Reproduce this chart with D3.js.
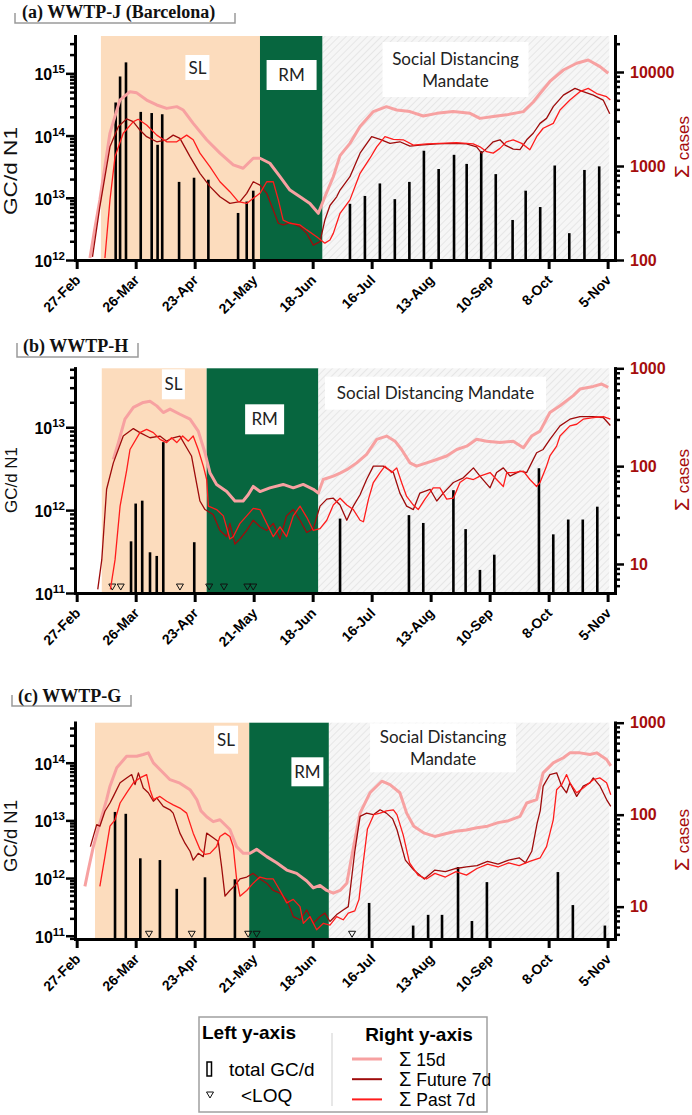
<!DOCTYPE html>
<html>
<head>
<meta charset="utf-8">
<script src="https://cdn.jsdelivr.net/npm/d3@7"></script>
<style>
  body { margin: 0; background: #fff; }
  svg { display: block; }
</style>
</head>
<body>
<svg id="chart" width="692" height="1115"></svg>
<script>
// ---- data (days counted from 27-Feb-2020) ----
const tickDays = [0, 28, 56, 84, 112, 140, 168, 196, 224, 252];
const tickLabels = ["27-Feb", "26-Mar", "23-Apr", "21-May", "18-Jun", "16-Jul", "13-Aug", "10-Sep", "8-Oct", "5-Nov"];

// period limits: SL start, RM start, mandate start, end
const aPeriods = [11.5, 87, 116.7, 252.8];
const bPeriods = [11.9, 61.7, 114.7, 252.8];
const cPeriods = [8.7, 81.9, 119.7, 252.8];

// (a) WWTP-J
const aBars = [[18.5,3.4e14],[20.6,8.9e14],[23.4,1.5e15],[30.4,2.4e14],[35.6,2.3e14],[38.4,7.1e13],[40.6,2.2e14],[48.6,1.8e13],[55.7,2.1e13],[62.5,1.95e13],[76.6,5.7e12],[80.7,8.7e12],[83.8,1.3e13],[129.7,8e12],[136.8,1.07e13],[143.9,1.7e13],[151,9.5e12],[157.9,1.8e13],[164.8,5.7e13],[171.8,2.9e13],[179.1,4.9e13],[185.1,3.5e13],[192,5.6e13],[198.9,2.4e13],[206.9,4.4e12],[213.1,1.3e13],[220,7.1e12],[226.9,3.3e13],[233.8,2.7e12],[241,2.8e13],[248,3.2e13]];
const aLoq = [];
const aSum15 = [[6.3,105],[8.5,210],[11,436],[15.8,2240],[20.5,5030],[25.3,6170],[28.5,6000],[33.2,5030],[38,4460],[42.7,4100],[47.5,4280],[50.6,3940],[55.3,2840],[61.7,1900],[68,1370],[74.3,1030],[79,946],[83.8,1210],[87,1210],[91.7,1070],[96.5,769],[101.2,555],[106,470],[110.7,400],[114.7,314],[117.8,470],[121.8,769],[125,1290],[129.7,1740],[134.5,2630],[140.8,3790],[147,4280],[151.9,3940],[158.2,3790],[164.5,3400],[170.9,3630],[178.7,3790],[186.7,3630],[191.4,3210],[197.7,3360],[204,3500],[212,3790],[216.7,4800],[219.9,5900],[224.6,7930],[231,10500],[237.3,12400],[242.8,13400],[248.4,11400],[252.3,9690]];
const aFuture7 = [[7.5,108],[11,369],[15.8,1600],[19.8,2630],[23.7,3170],[26.8,2960],[30,2410],[33.2,2050],[38,1810],[42.7,1900],[45.8,2130],[49,1970],[53.8,1260],[58.5,836],[63.3,603],[68,470],[72.7,400],[77.5,417],[80.7,512],[83.8,680],[87,627],[90.2,512],[93.3,340],[95.7,246],[98,236],[101.2,250],[106,226],[109.2,192],[112.3,144],[115.5,157],[117.8,266],[120.2,380],[123.4,470],[125,555],[129.7,769],[134.5,1370],[140,2050],[144,1920],[148.7,1740],[153.4,1810],[158.2,1630],[162.9,1670],[170.9,1720],[178.7,1740],[185,1720],[189.8,1600],[192.2,1370],[194.6,1540],[197.7,1810],[200.9,1900],[203.3,1670],[207.2,1510],[210.4,1490],[213.6,1900],[216.7,2230],[219.9,2840],[223,3210],[226.2,4280],[231,5680],[236.5,6700],[240.4,6170],[245.2,5680],[249.9,5030],[253,3600]];
const aPast7 = [[13.4,105],[15.8,436],[18.2,1260],[22.1,2230],[26.9,2960],[29.2,3140],[33.2,2730],[38,2130],[42.7,1810],[47.5,1810],[52.2,2130],[55.3,1900],[58.5,1370],[63.3,980],[68,680],[72.7,533],[76.7,417],[80.7,400],[83.8,453],[87,512],[90.2,680],[93.3,680],[95.7,436],[98,266],[101.2,246],[106,236],[109.2,209],[113.9,177],[117.8,151],[120.2,163],[121.8,192],[125,314],[129.7,436],[134.5,836],[139.2,1210],[142.4,1600],[146.3,2050],[150.3,1920],[155,1900],[159.8,1670],[166.1,1720],[172.4,1740],[180.3,1770],[188.2,1720],[191.4,1600],[194.6,1420],[197.7,1370],[200.9,1540],[204,1810],[207.2,1900],[211.2,1740],[215.1,1490],[218.3,2050],[221.4,2520],[226.2,2840],[229.4,3940],[234.1,5030],[238.8,6170],[242.8,6700],[246.8,5900],[251.5,5460],[253.3,5030]];

// (b) WWTP-H
const bBars = [[25.8,4.2e11],[28,1.2e12],[31.1,1.3e12],[34.8,3.1e11],[38,2.8e11],[41.1,6.6e12],[55.8,4.1e11],[125,7.9e11],[157.7,8.7e11],[164.5,7e11],[178.8,1.74e12],[184.6,5.9e11],[191.4,1.9e11],[198.2,2.9e11],[219.4,3.2e12],[226.2,5.1e11],[233.3,7.7e11],[240.2,7.7e11],[247.1,1.1e12]];
const bLoq = [16.9, 20.9, 49, 62.9, 69.9, 81, 83.8];
const bSum15 = [[17.4,117],[19.8,174],[22.9,302],[26.9,398],[31.6,448],[34.8,460],[38,413],[41.1,353],[44.3,383],[49,339],[53.8,302],[57.7,228],[60.9,137],[63.3,85],[66.4,65],[71.2,55],[75.1,44],[79,44],[81.4,51],[83.8,62],[87,55],[91.7,60],[98,65],[102.8,60],[107.5,65],[112.3,58],[114.7,53],[117,73],[121.8,79],[125,85],[128.2,92],[132.9,108],[137.6,132],[142.4,188],[147.1,203],[151.1,180],[154.2,148],[158.2,108],[161.3,100],[166.1,108],[170.9,117],[175.6,127],[180.4,148],[185.1,160],[189.8,188],[194.6,180],[200.9,174],[207.2,180],[212,154],[215.9,203],[219.9,228],[224.6,354],[229.4,414],[235.7,525],[238.9,613],[245.2,653],[249.2,690],[252.3,638]];
const bFuture7 = [[10,5.5],[11.9,11],[14.2,58],[17.4,108],[22.1,203],[26.9,242],[30,220],[34.8,195],[39.5,203],[42.7,180],[45.8,195],[49,203],[52.2,154],[54.5,127],[56.9,67],[58.5,44],[60.9,36],[64.8,32],[68,22],[71.2,19],[72.7,26],[75.1,16],[77.5,18],[80.7,22],[83.8,28],[87,24],[90.2,22],[93.3,26],[96.5,18],[99.6,31],[102.8,36],[106,28],[109.2,21],[112.3,23],[115.5,39],[118.7,46],[121.8,47],[125,40],[128.2,28],[131.3,39],[134.5,51],[137.6,73],[140.8,100],[145.5,100],[150.3,86],[153.4,53],[156.6,39],[159.8,36],[162.9,53],[167.7,58],[170.9,44],[174,53],[178.8,68],[183.5,76],[188.3,96],[191.4,79],[196.2,60],[199.3,86],[202.5,96],[205.7,79],[210.4,89],[213.6,86],[215.9,108],[218.3,137],[221.4,148],[224.6,188],[229.4,258],[234.1,302],[238.9,320],[245.2,320],[249.9,314],[253.3,260]];
const bPast7 = [[16,5.5],[18.2,11],[20.6,39],[23.7,90],[25.3,148],[30,220],[33.2,238],[36.4,220],[39.5,188],[42.7,174],[45,195],[47.5,174],[50.3,203],[53,180],[55.3,203],[57.7,148],[60.1,100],[61.7,73],[62.5,39],[66.4,36],[69.6,31],[72.7,18],[74.3,19],[77.5,26],[80.7,31],[83.8,37],[87,36],[90.2,26],[93.3,19],[96.5,24],[99.6,19],[102.8,31],[106,39],[109.2,30],[112.3,22],[115.5,23],[118.7,28],[121.8,40],[125,47],[128.2,40],[131.3,36],[134.5,28],[136.1,27],[138.5,46],[140.8,68],[144,86],[146.3,100],[149.5,86],[151.9,96],[154.2,68],[156.6,49],[159.8,40],[162.1,36],[165.3,46],[169.2,60],[172.4,60],[175.6,46],[178.8,47],[181.9,68],[185.1,76],[188.3,73],[191.4,79],[196.2,86],[199.3,73],[202.5,62],[204.1,86],[207.2,86],[212,89],[215.1,73],[218.3,62],[219.9,68],[223,100],[224.6,127],[227.8,160],[229.4,203],[234.1,258],[237.3,268],[240.4,302],[245.2,314],[250,320],[253.3,302]];

// (c) WWTP-G
const cBars = [[18.2,1.4e13],[23.3,1.3e13],[30.2,2.2e12],[39.5,2.05e12],[47.5,6.5e11],[60.9,1.03e12],[75.1,9.5e11],[138.8,3.7e11],[159.7,1.5e11],[166.8,2.3e11],[173.4,2.3e11],[181,1.55e12],[187.6,1.8e11],[194.7,8.5e11],[228.4,1.27e12],[235.5,3.4e11],[250.7,1.5e11]];
const cLoq = [34.3, 54.6, 81.4, 85.4, 130.7];
const cSum15 = [[3.9,16.6],[5.5,25],[7.9,45],[11,81],[14.2,146],[15.8,204],[19,323],[23.7,432],[28.5,432],[31.6,451],[34,470],[36.4,366],[39.5,310],[44.3,240],[49,220],[53.8,187],[57,146],[59,110],[61.7,95],[64.8,84],[68,88],[72.7,69],[75.9,45],[79.1,38],[82.3,38],[85.4,42],[90.2,35],[94.9,30],[99.7,25],[104.4,23],[109.2,19],[112.3,16],[115.5,17],[118.7,15],[121.8,14],[125,15],[128.2,18],[131,40],[134.5,104],[139.2,173],[144.8,231],[148.7,212],[153.4,173],[156.6,104],[160,75],[165,63],[170,58],[175,62],[180,66],[185,68],[190,72],[195,75],[200,82],[205,86],[210.4,96],[213.6,134],[218.3,146],[221.4,285],[226.2,366],[231,416],[234.1,470],[238.9,470],[243.6,451],[246.8,470],[251.5,398],[253.5,340]];
const cFuture7 = [[6.5,45],[9.5,78],[11,75],[13.4,109],[15.8,134],[17.4,158],[20.6,222],[23.7,251],[26.1,273],[27.7,212],[29.3,285],[31.6,195],[34,173],[36.4,140],[38,152],[41.1,123],[44.3,113],[45.8,104],[49,63],[51.4,49],[53.8,40],[55.3,32],[57.7,38],[60.1,35],[61.7,63],[64.8,56],[67.2,51],[68.8,27],[70.4,13],[72.7,15],[75.1,17],[77.5,20],[80.7,21],[83.8,23],[87,20],[90.2,18],[93.3,15],[96.5,14],[99.7,12],[102.8,7.8],[106,7.2],[109.2,9.2],[112.3,6.6],[115.5,7.8],[117.8,8.5],[120.2,6.9],[123.4,8.2],[126.5,9.2],[128.9,10],[132,40],[134.5,96],[137.6,104],[140.8,100],[144,113],[147,104],[150,90],[152,69],[156,32],[160,25],[165,20],[170,25],[175,24],[180,26],[185,27],[190,28],[195,31],[200,29],[205,32],[210,34],[213,30],[216,40],[218.5,80],[220,110],[221.4,204],[224.6,273],[227.8,285],[230.2,204],[232.5,173],[234.1,222],[237.3,158],[240.4,204],[243.6,222],[245.2,251],[248.4,204],[251.5,146],[253.5,123]];
const cPast7 = [[11,16.6],[13.4,35],[15.8,75],[18.2,88],[20.6,134],[23.7,173],[26.9,222],[30,251],[33.2,273],[34.8,187],[36.4,146],[39.5,158],[42.7,140],[45.8,128],[49,118],[52.2,104],[55.3,63],[58.5,42],[60.9,37],[63.3,38],[66.4,45],[68,58],[70.4,63],[72.7,58],[74.3,45],[75.9,20],[77.5,13],[80.7,15],[83.8,18],[87,21],[90.2,20],[93.3,20],[96.5,15],[99.7,11],[102.8,12],[106,10],[107.6,6.6],[110.7,7.8],[113.9,5.6],[117.1,6.6],[120.2,6.3],[123.4,7.8],[126.5,7.2],[128.9,8.5],[132,9],[134,12],[136,30],[138,70],[141,100],[144,104],[147,110],[150.3,113],[152,100],[155,60],[158,30],[162,22],[166,20],[170,23],[175,21],[180,24],[185,22],[190,26],[195,29],[200,27],[205,30],[210,28],[215,31],[220,34],[223,45],[226.2,88],[227.8,187],[230.2,212],[232.5,273],[234.1,222],[237.3,173],[240.4,195],[245.2,240],[248.4,251],[251.5,222],[253.5,165]];

const panelTitles = ["(a) WWTP-J (Barcelona)", "(b) WWTP-H", "(c) WWTP-G"];
const leftDomains = [[1e12, 3.98e15], [1e11, 5.14e13], [8.77e10, 4.94e14]];
const rightDomains = [[100, 24150], [5.05, 1000], [4.45, 1000]];
const rightTicks = [[100, 1000, 10000], [10, 100, 1000], [10, 100, 1000]];
const loqLevels = [null, 1.18e11, 1.06e11];

const seriesNames = ["15d", "Future 7d", "Past 7d"];
const seriesColors = ["#f7a1a1", "#9e0b0b", "#ff1c1c"];
const seriesWidths = [3, 1.3, 1.3];

const panels = [
  {title: panelTitles[0], periods: aPeriods, bars: aBars, loq: aLoq, series: [aSum15, aFuture7, aPast7]},
  {title: panelTitles[1], periods: bPeriods, bars: bBars, loq: bLoq, series: [bSum15, bFuture7, bPast7]},
  {title: panelTitles[2], periods: cPeriods, bars: cBars, loq: cLoq, series: [cSum15, cFuture7, cPast7]}
];

// ---- layout ----
const layout = [
  {top: 36, bottom: 260, titleX: 22, titleY: 18, bracket: [15, 235, 13, 23], labY: 171, labLen: 88, labSize: 19, casesY: 147,
   boxes: [{day: 57.3, dy: 19, w: 24, h: 25, lines: ["SL"]}, {day: 102, dy: 24, w: 50, h: 30, lines: ["RM"]}, {day: 179.8, dy: 6, w: 146, h: 55, lines: ["Social Distancing", "Mandate"]}]},
  {top: 368.3, bottom: 593, titleX: 23, titleY: 352, bracket: [17, 138, 343, 357], labY: 480, labLen: 66, labSize: 17, casesY: 480,
   boxes: [{day: 45.9, dy: 1, w: 23, h: 30, lines: ["SL"]}, {day: 89.2, dy: 36, w: 39, h: 30, lines: ["RM"]}, {day: 170.3, dy: 8.4, w: 221, h: 33, lines: ["Social Distancing Mandate"]}]},
  {top: 722.7, bottom: 939, titleX: 18, titleY: 702, bracket: [12, 131, 695, 706], labY: 836, labLen: 72, labSize: 18, casesY: 840,
   boxes: [{day: 70.9, dy: 3, w: 24, h: 28, lines: ["SL"]}, {day: 109.5, dy: 34.6, w: 32, h: 29, lines: ["RM"]}, {day: 173.9, dy: 0.6, w: 146, h: 49, lines: ["Social Distancing", "Mandate"]}]}
];

const sans = "'Liberation Sans', Arial, sans-serif";
const axisRed = "#a50d0d";

const svg = d3.select("#chart");
const defs = svg.append("defs");
const pat = defs.append("pattern").attr("id", "hatch").attr("patternUnits", "userSpaceOnUse")
  .attr("width", 5).attr("height", 5).attr("patternTransform", "rotate(45)");
pat.append("rect").attr("width", 5).attr("height", 5).attr("fill", "#f6f6f6");
pat.append("line").attr("x1", 0).attr("y1", 0).attr("x2", 0).attr("y2", 5).attr("stroke", "#e1e1e1").attr("stroke-width", 1.5);

const x = d3.scaleLinear().domain([-0.8, 255.5]).range([75, 615]);
const periodFills = ["#fcdcbd", "#07663f", "url(#hatch)"];

function logTicks(dom) {
  const majors = [], minors = [];
  for (let k = Math.floor(Math.log10(dom[0])); k <= Math.ceil(Math.log10(dom[1])); k++) {
    const v = Math.pow(10, k);
    if (v >= dom[0] && v <= dom[1]) majors.push(v);
    for (let m = 2; m <= 9; m++) {
      const w = m * v;
      if (w >= dom[0] && w <= dom[1]) minors.push(w);
    }
  }
  return {majors, minors};
}

panels.forEach(function(p, i) {
  const L = layout[i];
  const yL = d3.scaleLog().domain(leftDomains[i]).range([L.bottom, L.top]);
  const yR = d3.scaleLog().domain(rightDomains[i]).range([L.bottom, L.top]);
  const g = svg.append("g");

  // title + bracket
  g.append("path")
    .attr("d", `M${L.bracket[0]},${L.bracket[2]}V${L.bracket[3]}H${L.bracket[1]}V${L.bracket[2]}`)
    .attr("fill", "none").attr("stroke", "#9a9a9a").attr("stroke-width", 1.5);
  g.append("text").attr("x", L.titleX).attr("y", L.titleY)
    .attr("font-family", "'Liberation Serif', 'DejaVu Serif', serif").attr("font-weight", "bold")
    .attr("font-size", 18).attr("fill", "#111").text(p.title);

  // period backgrounds
  g.selectAll("rect.period").data(periodFills).enter().append("rect")
    .attr("class", "period")
    .attr("x", (d, j) => x(p.periods[j]))
    .attr("width", (d, j) => x(p.periods[j + 1]) - x(p.periods[j]))
    .attr("y", L.top).attr("height", L.bottom - L.top)
    .attr("fill", d => d);

  // label boxes
  L.boxes.forEach(function(b) {
    const cx = x(b.day), top = L.top + b.dy;
    g.append("rect").attr("x", cx - b.w / 2).attr("y", top).attr("width", b.w).attr("height", b.h).attr("fill", "#fff");
    b.lines.forEach(function(t, k) {
      g.append("text").attr("x", cx)
        .attr("y", top + b.h / 2 + (k - (b.lines.length - 1) / 2) * 22)
        .attr("dy", "0.36em").attr("text-anchor", "middle")
        .attr("font-family", "Lato, 'Open Sans', sans-serif").attr("font-size", 17).attr("fill", "#222")
        .text(t);
    });
  });

  // bars
  g.selectAll("rect.bar").data(p.bars).enter().append("rect")
    .attr("class", "bar")
    .attr("x", d => x(d[0]) - 1.3).attr("width", 2.6)
    .attr("y", d => yL(d[1])).attr("height", d => L.bottom - yL(d[1]))
    .attr("fill", "#000");

  // <LOQ markers
  if (loqLevels[i] !== null) {
    g.selectAll("path.loq").data(p.loq).enter().append("path")
      .attr("class", "loq")
      .attr("d", "M-3.5,-3L3.5,-3L0,3Z")
      .attr("transform", d => `translate(${x(d)},${yL(loqLevels[i])})`)
      .attr("fill", "none").attr("stroke", "#111").attr("stroke-width", 1);
  }

  // case lines
  const line = d3.line().x(d => x(d[0])).y(d => yR(d[1]));
  p.series.forEach(function(s, k) {
    g.append("path").datum(s).attr("d", line)
      .attr("fill", "none").attr("stroke", seriesColors[k]).attr("stroke-width", seriesWidths[k])
      .attr("stroke-linejoin", "round");
  });

  // left axis
  const lt = logTicks(leftDomains[i]);
  const gl = g.append("g").attr("transform", "translate(75,0)");
  gl.append("g").call(d3.axisLeft(yL).tickValues(lt.minors).tickSize(5).tickSizeOuter(0).tickFormat(""));
  gl.append("g").call(d3.axisLeft(yL).tickValues(lt.majors).tickSize(9).tickSizeOuter(0).tickFormat(""));
  gl.selectAll(".domain").attr("stroke-width", 3).attr("stroke-linecap", "square");
  gl.selectAll(".tick line").attr("stroke-width", 2.5);
  lt.majors.forEach(function(v) {
    const t = gl.append("text").attr("x", -10).attr("y", yL(v) + 7).attr("text-anchor", "end")
      .attr("font-family", sans).attr("font-weight", "bold").attr("font-size", 16).attr("fill", "#000");
    t.append("tspan").text("10");
    t.append("tspan").attr("font-size", 11.5).attr("dy", -7).text(String(Math.round(Math.log10(v))));
  });
  g.append("text").attr("transform", `translate(17,${L.labY}) rotate(-90)`)
    .attr("text-anchor", "middle").attr("font-family", sans).attr("font-size", L.labSize)
    .attr("textLength", L.labLen).attr("lengthAdjust", "spacingAndGlyphs").attr("fill", "#111")
    .text("GC/d N1");

  // right axis
  const rt = logTicks(rightDomains[i]);
  const gr = g.append("g").attr("transform", "translate(615,0)");
  gr.append("g").call(d3.axisRight(yR).tickValues(rt.minors).tickSize(5).tickSizeOuter(0).tickFormat(""));
  gr.append("g").call(d3.axisRight(yR).tickValues(rightTicks[i]).tickSize(9).tickPadding(6).tickSizeOuter(0).tickFormat(d3.format("d")));
  gr.selectAll(".domain").attr("stroke-width", 3).attr("stroke-linecap", "square");
  gr.selectAll(".tick line").attr("stroke-width", 2.5);
  gr.selectAll(".tick text").attr("fill", axisRed).attr("font-family", sans).attr("font-weight", "bold").attr("font-size", 16);
  const ct = g.append("text").attr("transform", `translate(689,${L.casesY}) rotate(-90)`)
    .attr("text-anchor", "middle").attr("font-family", sans).attr("fill", axisRed);
  ct.append("tspan").attr("font-size", 21).text("Σ");
  ct.append("tspan").attr("font-size", 17).text(" cases");

  // x axis
  const gx = g.append("g").attr("transform", `translate(0,${L.bottom})`)
    .call(d3.axisBottom(x).tickValues(tickDays).tickSize(9).tickSizeOuter(0).tickFormat((d, j) => tickLabels[j]));
  gx.select(".domain").attr("stroke-width", 3).attr("stroke-linecap", "square");
  gx.selectAll(".tick line").attr("stroke-width", 3);
  gx.selectAll(".tick text")
    .attr("x", null).attr("y", null).attr("dy", null)
    .attr("text-anchor", "end").attr("transform", "translate(4,21) rotate(-45)")
    .attr("font-family", sans).attr("font-weight", "bold").attr("font-size", 14).attr("fill", "#000");
});

// ---- legend ----
const legendLeft = [{kind: "bar", label: "total GC/d"}, {kind: "loq", label: "<LOQ"}];
const lg = svg.append("g");
lg.append("rect").attr("x", 199).attr("y", 1017).attr("width", 288).attr("height", 95)
  .attr("fill", "none").attr("stroke", "#a0a0a0").attr("stroke-width", 1.5);
lg.append("line").attr("x1", 332).attr("x2", 332).attr("y1", 1033).attr("y2", 1106)
  .attr("stroke", "#cfcfcf").attr("stroke-width", 1);
lg.append("text").attr("x", 249).attr("y", 1039).attr("text-anchor", "middle")
  .attr("font-family", sans).attr("font-weight", "bold").attr("font-size", 19).text("Left y-axis");
lg.append("text").attr("x", 419).attr("y", 1041).attr("text-anchor", "middle")
  .attr("font-family", sans).attr("font-weight", "bold").attr("font-size", 19).text("Right y-axis");

legendLeft.forEach(function(d, k) {
  const cy = 1069 + k * 26;
  if (d.kind === "bar") {
    lg.append("rect").attr("x", 207).attr("y", cy - 7).attr("width", 4.5).attr("height", 14)
      .attr("fill", "#fff").attr("stroke", "#000").attr("stroke-width", 1.5);
  } else {
    lg.append("path").attr("d", "M-3.5,-3L3.5,-3L0,3Z").attr("transform", `translate(210,${cy})`)
      .attr("fill", "none").attr("stroke", "#111").attr("stroke-width", 1);
  }
  lg.append("text").attr("x", k === 0 ? 229 : 241).attr("y", cy + 7)
    .attr("font-family", sans).attr("font-size", 19).text(d.label);
});

seriesNames.forEach(function(n, k) {
  const cy = 1059 + k * 20.2;
  lg.append("line").attr("x1", 352).attr("x2", 382).attr("y1", cy).attr("y2", cy)
    .attr("stroke", seriesColors[k]).attr("stroke-width", k === 0 ? 3 : 2);
  const t = lg.append("text").attr("x", 399).attr("y", cy + 7)
    .attr("font-family", sans).attr("font-size", 17.5);
  t.append("tspan").attr("font-size", 20).text("Σ");
  t.append("tspan").text(" " + n);
});
</script>
</body>
</html>
